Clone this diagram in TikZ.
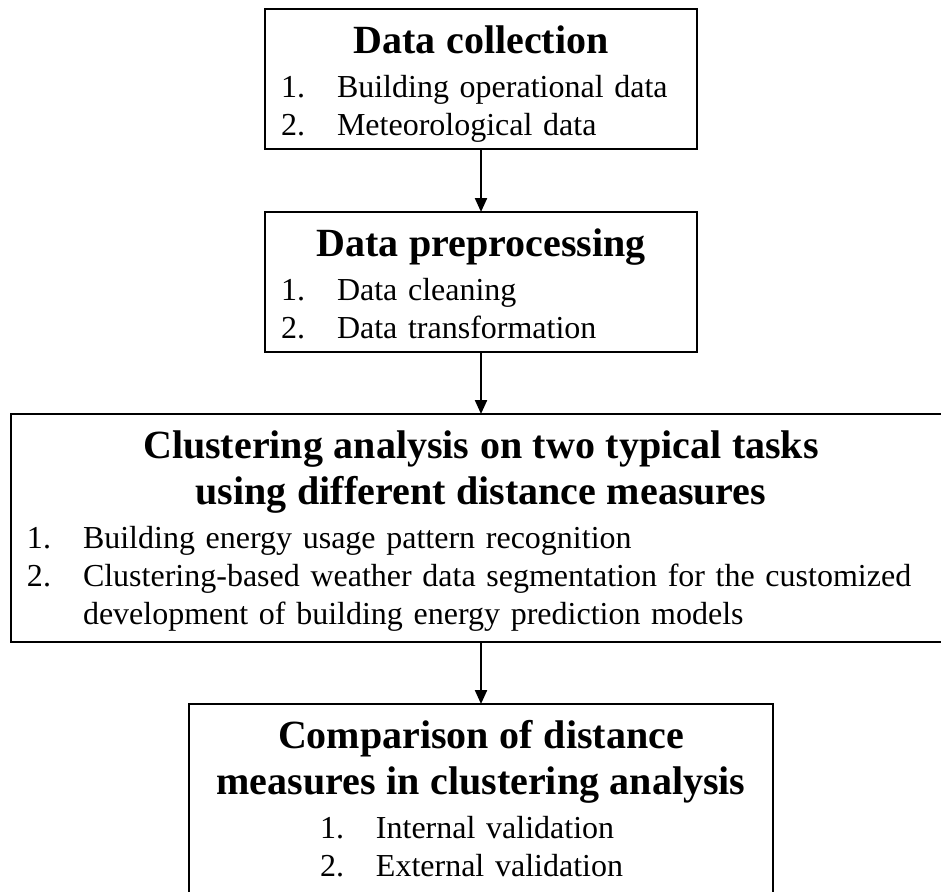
\documentclass[tikz,border=0pt]{standalone}
\usepackage{fontspec}
\setmainfont{Liberation Serif}
\usetikzlibrary{positioning,arrows.meta}
\setlength{\parindent}{0pt}

\newcommand{\ttl}[1]{{\centering\fontsize{40pt}{46pt}\selectfont\bfseries\rule{0pt}{44pt}#1\par}\vspace{6pt}}
\newcommand{\itm}[3][16pt]{{\hangindent=\dimexpr#1+56pt\relax\hangafter=1
  \hspace*{#1}\makebox[56pt][l]{#2}#3\par}}
\newcommand{\dstrut}[1][14pt]{\rule[-#1]{0pt}{#1}}

\begin{document}
\begin{tikzpicture}[x=1pt,y=-1pt,>={Triangle[length=14pt,width=12pt]},node distance=62pt,
  stage/.style={rectangle,draw,line width=2.2pt,inner sep=0pt,outer sep=0pt,
    font=\fontsize{32pt}{38pt}\selectfont\raggedright},
  arr/.style={->,line width=2.2pt}]
  \useasboundingbox (0,0) rectangle (941,891);
  \clip (0,0) rectangle (941,891);
  \node[stage,text width=432pt,anchor=north] (dc) at (481,9)
    {\ttl{Data collection}\itm{1.}{Building operational data}\itm{2.}{Meteorological data\dstrut}};
  \node[stage,text width=432pt,below=63pt of dc] (dp)
    {\ttl{Data preprocessing}\itm{1.}{Data cleaning}\itm{2.}{Data transformation\dstrut}};
  \node[stage,text width=940pt,below=of dp] (ca)
    {\ttl{Clustering analysis on two typical tasks\\ using different distance measures}%
     \itm{1.}{Building energy usage pattern recognition}%
     \itm{2.}{Clustering-based weather data segmentation for the customized\newline
       development of building energy prediction models\dstrut[18pt]}};
  \node[stage,text width=584pt,below=of ca] (cm)
    {\ttl{Comparison of distance\\ measures in clustering analysis}%
     \itm[131pt]{1.}{Internal validation}\itm[131pt]{2.}{External validation\dstrut[20pt]}};
  \draw[arr] (dc) -- (dp);
  \draw[arr] (dp) -- (ca);
  \draw[arr] (ca) -- (cm);
\end{tikzpicture}
\end{document}
